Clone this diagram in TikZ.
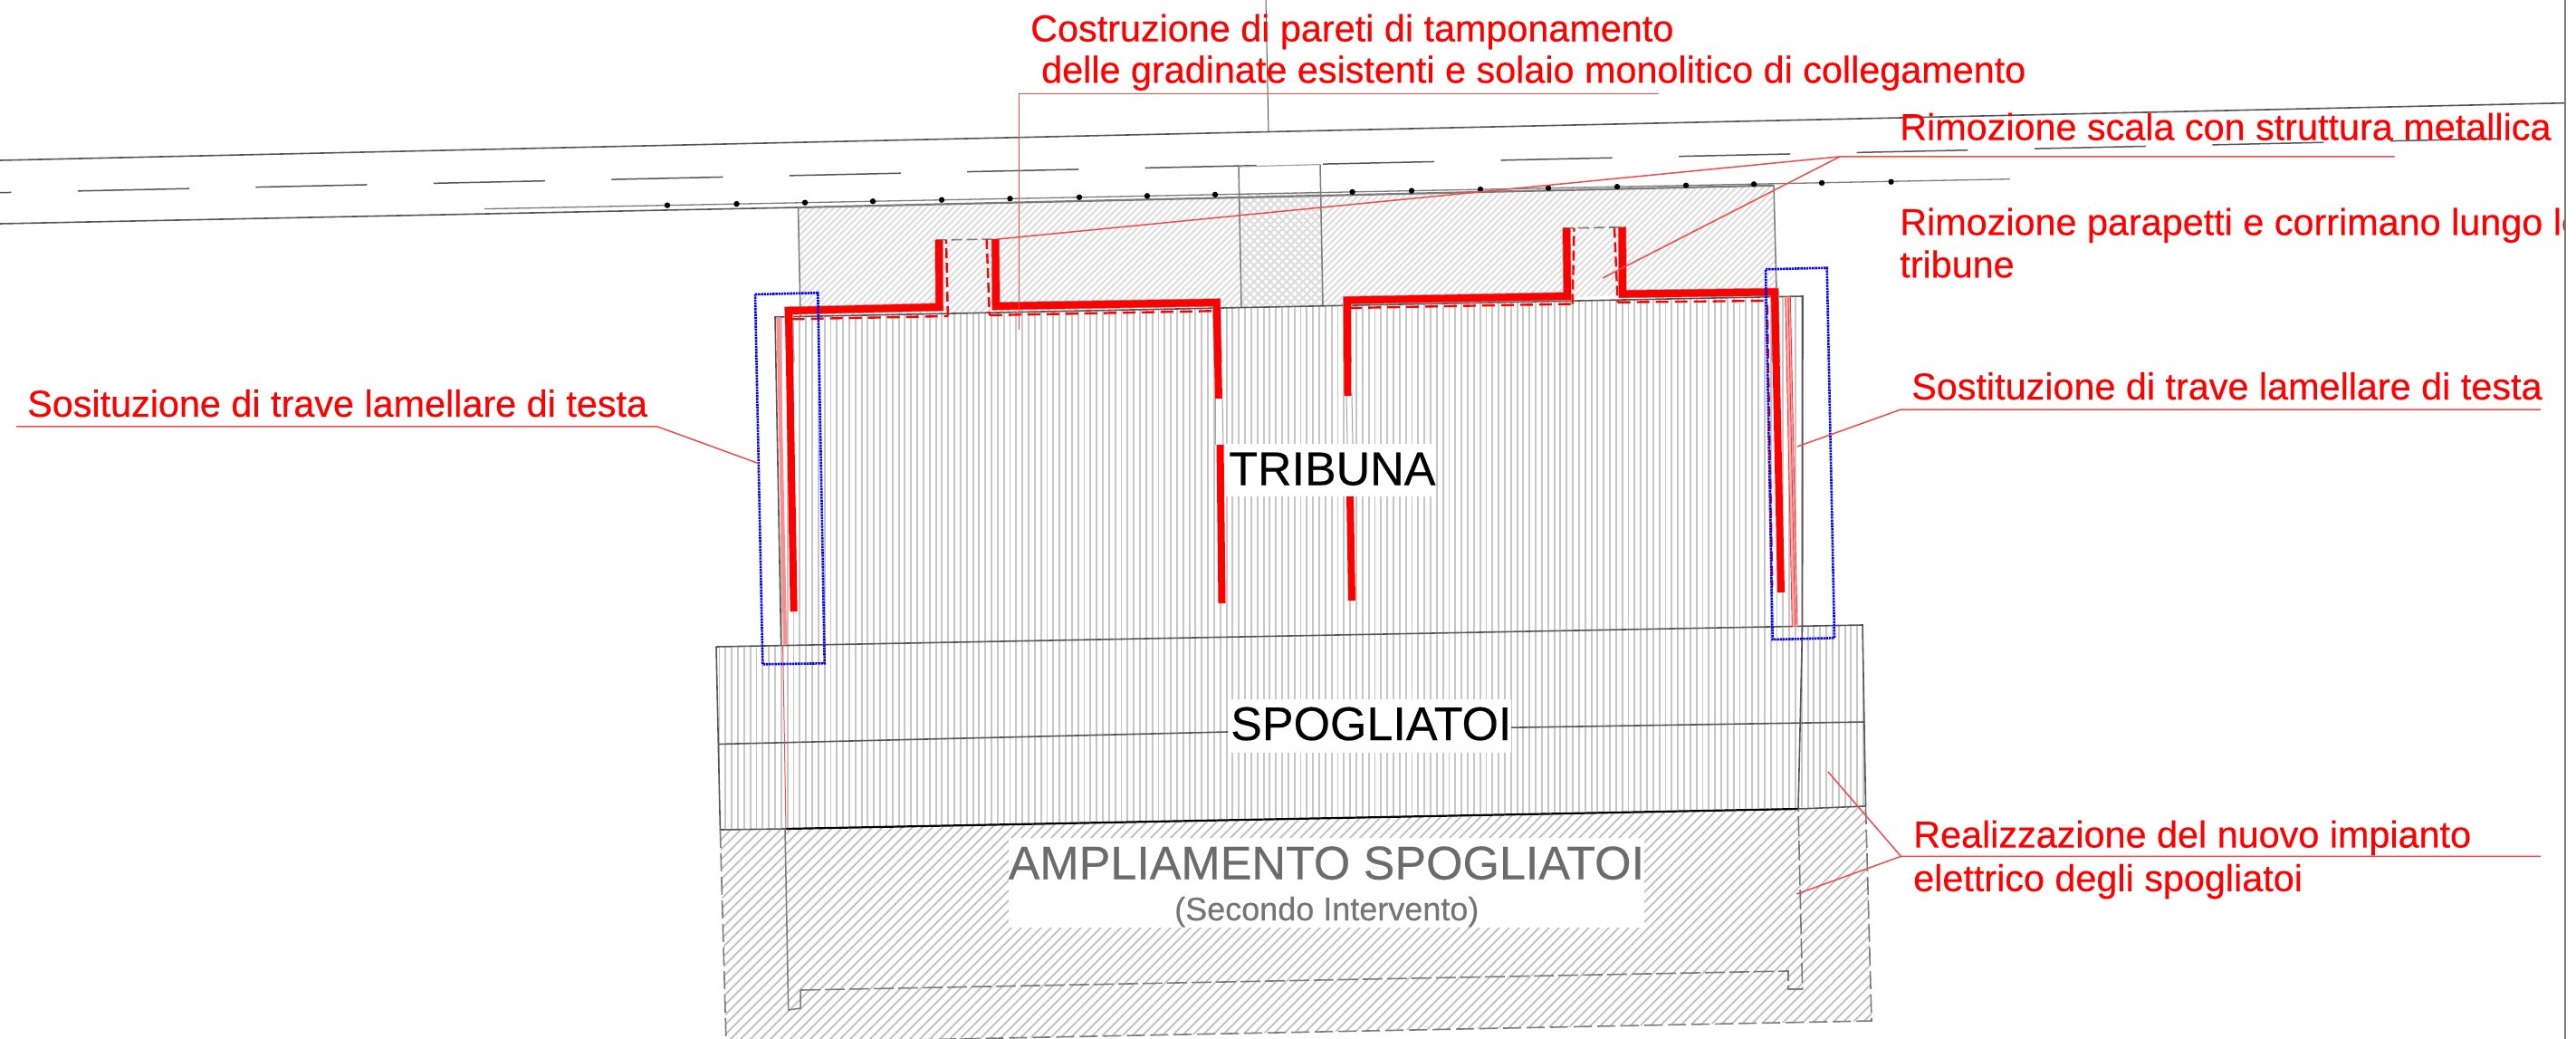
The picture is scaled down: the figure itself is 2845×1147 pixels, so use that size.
\documentclass[tikz,border=0pt]{standalone}
\usepackage{fontspec}
\setmainfont{Liberation Sans}
\newfontfamily\heavyfont{Liberation Sans}[FakeBold=0.35]
\definecolor{redlead}{HTML}{EE4B4B}
\definecolor{hatchA}{HTML}{DEDEDE}
\definecolor{hatchB}{HTML}{C6C6C6}
\definecolor{hatchC}{HTML}{C2C2C2}
\definecolor{edge}{HTML}{7A7A7A}
\definecolor{darkedge}{HTML}{555555}
\tikzset{
  redtext/.style={anchor=base west,inner sep=0pt,text=red,font=\heavyfont\fontsize{41.35}{41.35}\selectfont},
  bigtext/.style={anchor=base west,inner sep=0pt,font=\heavyfont\fontsize{52}{52}\selectfont},
  leader/.style={draw=redlead,line width=1.5pt},
  wall/.style={draw=red,line width=8pt,line join=miter,line cap=butt},
  wallrim/.style={draw=edge!70,line width=9.5pt,line join=miter,line cap=butt},
  reddash/.style={draw=red,line width=2.4pt,dash pattern=on 14pt off 7pt},
  bluebox/.style={draw=blue,line width=2.6pt,dash pattern=on 2.4pt off 0.8pt},
  edgeline/.style={draw=edge,line width=1.5pt},
  darkline/.style={draw=darkedge,line width=1.6pt},
  greydash/.style={draw=edge,line width=1.6pt,dash pattern=on 20pt off 6pt},
}
\begin{document}
\begin{tikzpicture}[x=1pt,y=-1pt]
\useasboundingbox (0,0) rectangle (2845,1147);
\begin{scope}
\clip (0,0) rectangle (2845,1147);
% hatched upper block
\begin{scope}
\clip (881.5,229) -- (1368,218) -- (1371,339) -- (884,349) -- cycle;
\foreach \x in {720,727.3,...,1380} \draw[hatchA,line width=2.2pt] (\x,350) -- (\x+150,200);
\end{scope}
\begin{scope}
\clip (1458,215.6) -- (1959,204.7) -- (1962,320) -- (1461,338) -- cycle;
\foreach \x in {1300,1307.3,...,1970} \draw[hatchA,line width=2.2pt] (\x,350) -- (\x+150,200);
\end{scope}
\begin{scope}
\clip (1368,213.5) -- (1458,211.5) -- (1461,338) -- (1371,339) -- cycle;
\foreach \x in {1220,1229,...,1470} {
  \draw[hatchA,line width=2.2pt] (\x,350) -- (\x+150,200);
  \draw[hatchA,line width=2.2pt] (\x+150,350) -- (\x,200);
}
\end{scope}
% vertical hatch of tribuna
\begin{scope}
\clip (857,350) -- (1991,327) -- (1990.7,690) -- (863,713) -- cycle;
\foreach \k in {-4,...,165} \draw[hatchB,line width=1.9pt] ({883.3+6.83*\k},320) -- ({883.3+6.83*\k},720);
\end{scope}
% vertical hatch of spogliatoi
\begin{scope}
\clip (791,714) -- (2057,690) -- (2060.5,890) -- (795.4,916) -- cycle;
\foreach \k in {-13,...,172} \draw[hatchB,line width=1.9pt] ({883.3+6.83*\k},680) -- ({883.3+6.83*\k},920);
\end{scope}
% diagonal hatch of ampliamento
\begin{scope}
\clip (795.4,916) -- (2060.5,890) -- (2067,1127) -- (802,1152) -- cycle;
\foreach \x in {530,541,...,2070} \draw[hatchC,line width=2pt] (\x,1160) -- (\x+275,885);
\end{scope}
% white label boxes
\fill[white] (1351,490) rectangle (1585,548);
\fill[white] (1356,772) rectangle (1669,831);
\fill[white] (1113.7,924.6) rectangle (1815.6,1024.4);
% road lines
\draw[darkline] (0,177) -- (1401,145.5) -- (2833,113.7);
\draw[draw=darkedge,line width=1pt] (1398,0) -- (1401,145.5);
\draw[darkline] (0,247) -- (881.5,229);
\draw[draw=edge,line width=2.2pt] (881.5,229) -- (1959,204.7);
\draw[draw=edge,line width=1.3pt] (535,230.6) -- (2220,197.7);
\draw[draw=darkedge,line width=1.5pt,dash pattern=on 123pt off 73.5pt] (-110.5,215.1) -- (2762,153);
\foreach \dx/\dy in {737/226.6,813.5/225.1,889/223.7,964/222.2,1040/220.7,1115.5/219.3,1192/217.8,1267/216.3,1342/214.9,1493.6/211.9,1559/210.6,1635/209.1,1710/207.7,1786/206.2,1862/204.7,1937/203.3,2012/202,2088.6/200.7}
  \fill[black] (\dx,\dy) circle (3.2pt);
% block edges
\draw[edgeline] (881.5,229) -- (884,349);
\draw[edgeline] (1368,184) -- (1371,339);
\draw[edgeline] (1458,181.6) -- (1461,338);
\draw[draw=edge!70,line width=1.2pt] (1368,184) -- (1458,181.6);
\draw[edgeline] (1959,204.7) -- (1962,322);
% tribuna outline
\draw[darkline] (862.7,713) -- (856,350) -- (1991,327) -- (1990.6,690) -- (1986,893);
\draw[darkline] (791,714) -- (2057,690) -- (2060.5,890);
\draw[darkline] (791,714) -- (795.4,916) -- (867,915);
\draw[darkline] (793.6,821.5) -- (1356,808);
\draw[darkline] (1669,803.2) -- (2059.6,797);
\draw[draw=black,line width=2.2pt] (867,915) -- (1986,893);
\draw[darkline] (1986,893) -- (2060.5,890);
% ampliamento outline
\draw[greydash] (795.4,916) -- (802,1152);
\draw[greydash] (2060.5,890) -- (2067,1127) -- (802,1152);
\draw[edgeline] (867,915) -- (870.7,1115) -- (884,1113) -- (884,1093);
\draw[draw=edge,line width=1.6pt,dash pattern=on 22pt off 5pt] (884,1093) -- (1975,1072) -- (1975,1092) -- (1990.6,1092) -- (1986,893);
% pink strips
\fill[red!45] (857.3,350) -- (861.7,350) -- (869.3,711.7) -- (865,711.7) -- cycle;
\draw[draw=redlead,line width=1pt] (864.6,712) -- (868,915);
\fill[red!30] (1971.7,327.7) -- (1977.3,327.7) -- (1985,691.7) -- (1979.3,691.7) -- cycle;
\draw[draw=red!80,line width=0.9pt] (1971.7,327.7) -- (1979.3,691.7);
\draw[draw=red!80,line width=0.9pt] (1975,327.7) -- (1982.7,691.7);
\draw[draw=red!80,line width=0.9pt] (1977.3,327.7) -- (1985,691.7);
% stair openings
\draw[draw=edge,line width=1.6pt,dash pattern=on 12pt off 5pt] (1033.5,265) -- (1102,264);
\draw[draw=edge,line width=1.6pt,dash pattern=on 12pt off 5pt] (1726,252) -- (1795.7,250.7);
% red walls
\fill[white] (1342,440) rectangle (1350,491);
\draw[draw=edge!70,line width=1pt] (1342,440) -- (1342,491);
\draw[draw=edge!70,line width=1pt] (1350,440) -- (1351,491);
\fill[white] (1487,437) rectangle (1494,490);
\draw[draw=edge!70,line width=1pt] (1487,437) -- (1488,490);
\draw[draw=edge!70,line width=1pt] (1493,437) -- (1494,490);
\draw[wallrim] (1037,265) -- (1037.5,339) -- (871,343) -- (873,400);
\draw[wallrim] (1099.3,264) -- (1100,338) -- (1343.6,334) -- (1345,400);
\draw[wallrim] (1730,252) -- (1731,327) -- (1487.8,331.5) -- (1488,400);
\draw[wallrim] (1791.6,250.7) -- (1792,324.6) -- (1960,322.4) -- (1961,400);
\draw[wall] (876.7,675) -- (871,343) -- (1037.5,339) -- (1037,265);
\draw[wall] (1099.3,264) -- (1100,338) -- (1343.6,334) -- (1346,440);
\draw[wall] (1347.5,491) -- (1349.5,666);
\draw[wall] (1730,252) -- (1731,327) -- (1487.8,331.5) -- (1488.5,437);
\draw[wall] (1491,548) -- (1493,663);
\draw[wall] (1791.6,250.7) -- (1792,324.6) -- (1960,322.4) -- (1967,654);
% red dashed inner lines
\draw[reddash] (874.6,352.3) -- (1046.8,349);
\draw[reddash,dash pattern=on 11pt off 5pt] (1046.8,349) -- (1045,265);
\draw[reddash,dash pattern=on 11pt off 5pt] (1089.7,264) -- (1092.8,348);
\draw[reddash] (1092.8,348) -- (1338.8,343.3);
\draw[reddash] (1490,340) -- (1736.7,335.5);
\draw[reddash,dash pattern=on 11pt off 5pt] (1736.7,335.5) -- (1738.5,252);
\draw[reddash,dash pattern=on 11pt off 5pt] (1783,251.5) -- (1786.6,333.7);
\draw[reddash] (1786.6,333.7) -- (1948,332);
\draw[reddash,dash pattern=on 11pt off 5pt] (1951.7,336.7) -- (1957.3,646.7);
% blue boxes
\draw[bluebox] (834,325) -- (903.3,323.3) -- (910.7,732.3) -- (842.3,733.3) -- cycle;
\draw[bluebox] (1950,297.3) -- (2017.7,295.7) -- (2026,704.3) -- (1957.7,706) -- cycle;
% labels
\node[bigtext] (tribuna) at (1357,535.5) {TRIBUNA};
\node[bigtext] (spogliatoi) at (1359,817) {SPOGLIATOI};
\node[bigtext,text=black!58] (ampliamento) at (1113.5,970.7) {AMPLIAMENTO SPOGLIATOI};
\node[anchor=base west,inner sep=0pt,text=black!54,font=\heavyfont\fontsize{36}{36}\selectfont] (secondo) at (1297,1016) {(Secondo Intervento)};
% leaders
\coordinate (lA) at (18,470.8);
\coordinate (lB) at (725.6,470.8);
\coordinate (lC) at (838,511.7);
\draw[leader] (lA) -- (lB) -- (lC);
\coordinate (rA) at (2806,452);
\coordinate (rB) at (2099.5,452);
\coordinate (rC) at (1985,493);
\draw[leader] (rA) -- (rB) -- (rC);
\coordinate (tA) at (1832,103.4);
\coordinate (tB) at (1125.5,103.4);
\coordinate (tC) at (1125.5,363.7);
\draw[leader,line width=1.1pt] (tA) -- (tB) -- (tC);
\coordinate (sA) at (2644.6,172.9);
\coordinate (sB) at (2032,172.9);
\coordinate (sC) at (1770,307);
\coordinate (sD) at (1102,264);
\draw[leader] (sA) -- (sB) -- (sC);
\draw[leader] (sB) -- (sD);
\coordinate (iA) at (2806,945.4);
\coordinate (iB) at (2099.5,945.4);
\coordinate (iC) at (2018.8,851.9);
\coordinate (iD) at (1984.3,987);
\draw[leader] (iA) -- (iB) -- (iC);
\draw[leader] (iB) -- (iD);
% red texts
\node[redtext] (costA) at (1138,45.7) {Costruzione di pareti di tamponamento};
\node[redtext] (costB) at (1150,91.4) {delle gradinate esistenti e solaio monolitico di collegamento};
\node[redtext] (scala) at (2098,154.6) {Rimozione scala con struttura metallica};
\begin{scope}
\clip (0,0) rectangle (2833,1147);
\node[redtext] (parapA) at (2098,259.5) {Rimozione parapetti e corrimano lungo le};
\end{scope}
\node[redtext] (parapB) at (2098,306.3) {tribune};
\node[redtext] (sost) at (2111,441) {Sostituzione di trave lamellare di testa};
\node[redtext] (sosi) at (30,460) {Sosituzione di trave lamellare di testa};
\node[redtext] (realA) at (2113,935.6) {Realizzazione del nuovo impianto};
\node[redtext] (realB) at (2113,983.8) {elettrico degli spogliatoi};
% frame line
\draw[draw=edge,line width=1.2pt] (2833,0) -- (2833,1147);
\end{scope}
\end{tikzpicture}
\end{document}
